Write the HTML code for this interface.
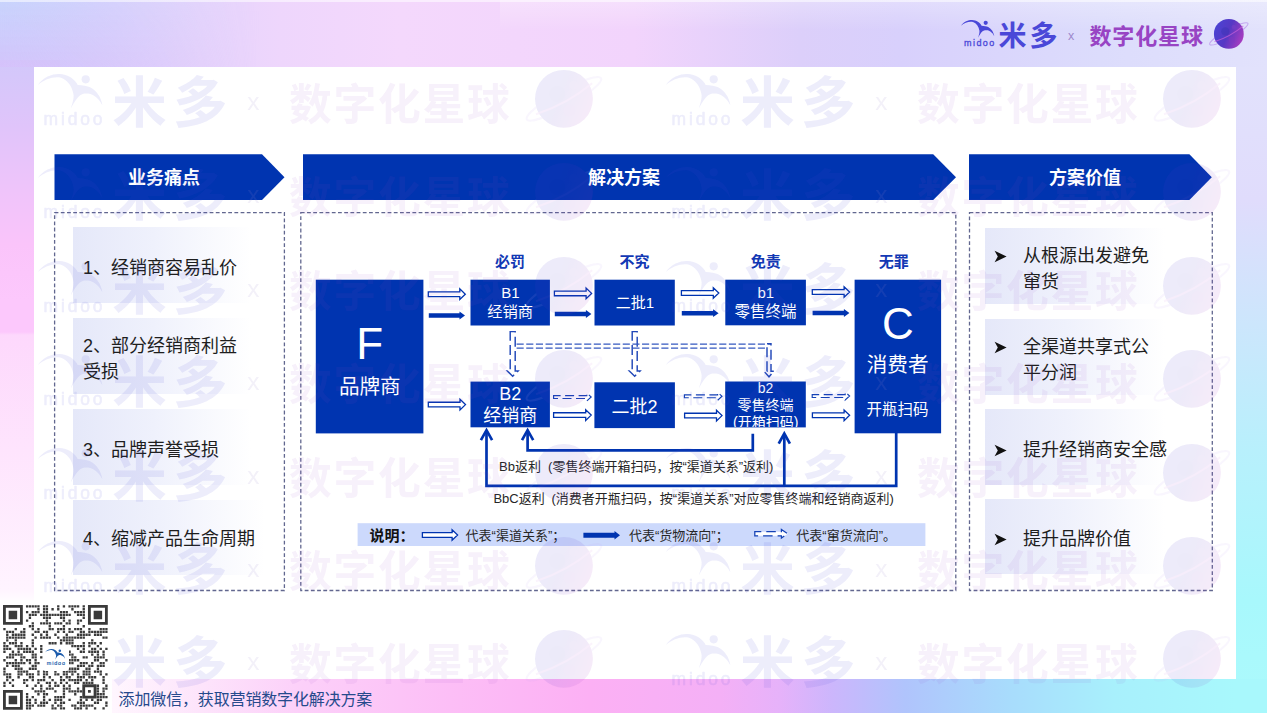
<!DOCTYPE html>
<html lang="zh-CN"><head><meta charset="utf-8"><title>渠道关系解决方案</title>
<style>
html,body{margin:0;padding:0}
body{width:1267px;height:713px;position:relative;overflow:hidden;background:#fff;font-family:"Liberation Sans","Noto Sans CJK SC",sans-serif}
.a{position:absolute}
.t{position:absolute;white-space:nowrap;line-height:1}
.it{position:absolute;height:75.5px;background:linear-gradient(90deg,#e5e8f9 0%,#eff1fc 45%,#ffffff 100%)}
.li{position:absolute;white-space:nowrap;font-size:18px;line-height:26px;color:#1e1e1e}
.wm{position:absolute;width:600px;height:70px;opacity:.105}
</style></head><body>

<div class="a" style="left:0;top:0;width:1267px;height:713px;background:linear-gradient(90deg,#c8d0fc 0px,#d8cffc 100px,#e6d4fc 200px,#eed6fc 280px,#f4d8fc 400px,#f2d4fc 634px,#dccffa 800px,#d8d0fc 900px,#dcdcfc 1100px,#e2e2fc 1267px)"></div>
<div class="a" style="left:0;top:60px;width:60px;height:653px;background:linear-gradient(180deg,#d2c8fa 0px,#e0c4fa 67px,#f0c4fa 135px,#fac4fa 185px,#fcc8fc 240px,#fcc8fc 272px,#fdd8fc 275px,#fee4fd 390px,#fff4ff 530px,#ffffff 545px)"></div>
<div class="a" style="left:0;top:0;width:260px;height:67px;background:linear-gradient(180deg,rgba(200,216,254,.45) 0%,rgba(214,192,250,.75) 100%);-webkit-mask-image:linear-gradient(90deg,#000 0,transparent 100%);mask-image:linear-gradient(90deg,#000 0,transparent 100%)"></div>
<div class="a" style="left:1200px;top:67px;width:67px;height:646px;background:linear-gradient(180deg,#e2e2fc 0px,#e0dcfc 133px,#d0e4fc 233px,#b8f0fc 383px,#a8f8fc 533px,#acfafc 646px)"></div>
<div class="a" style="left:0;top:679px;width:1267px;height:34px;background:linear-gradient(90deg,#ffffff 0px,#fff6fe 112px,#fde4fb 200px,#fcd0f9 300px,#fcbef6 450px,#fcb0f4 590px,#f4b0f6 720px,#e6b2fa 780px,#ccb6fc 832px,#b0c4fc 905px,#a8dcfc 1010px,#a8f0fc 1115px,#a8f8fc 1235px,#a8f8fc 1267px)"></div>
<div class="a" style="left:0;top:0;width:1267px;height:2px;background:rgba(255,255,255,.55)"></div>
<div class="a" style="left:500px;top:0;width:767px;height:30px;background:linear-gradient(180deg,rgba(255,255,255,.28),rgba(255,255,255,0))"></div>
<div class="a" style="left:34px;top:67px;width:1201.5px;height:612px;background:#fff"></div>
<svg class="a" style="left:0;top:0" width="1267" height="713" viewBox="0 0 1267 713"><polygon points="54.5,154.3 262,154.3 284.5,177.2 262,200 54.5,200" fill="#0034b0"/></svg>
<div class="t" style="left:164px;top:178.3px;transform:translate(-50%,-50%);font-size:18px;color:#fff;font-weight:700;">业务痛点</div>
<svg class="a" style="left:0;top:0" width="1267" height="713" viewBox="0 0 1267 713"><polygon points="303,154.3 933.2,154.3 956,177.2 933.2,200 303,200" fill="#0034b0"/></svg>
<div class="t" style="left:624px;top:178.3px;transform:translate(-50%,-50%);font-size:18px;color:#fff;font-weight:700;">解决方案</div>
<svg class="a" style="left:0;top:0" width="1267" height="713" viewBox="0 0 1267 713"><polygon points="969,154.3 1189.4,154.3 1211.8,177.2 1189.4,200 969,200" fill="#0034b0"/></svg>
<div class="t" style="left:1085px;top:178.3px;transform:translate(-50%,-50%);font-size:18px;color:#fff;font-weight:700;">方案价值</div>
<svg class="a" style="left:0;top:0" width="1267" height="713" viewBox="0 0 1267 713" fill="none" stroke="#62678f" stroke-width="1.3" stroke-dasharray="3.8 2.4">
<rect x="54.6" y="212.6" width="229.79999999999998" height="377.9"/>
<rect x="300.8" y="212.6" width="655.0" height="377.9"/>
<rect x="969.5" y="212.6" width="242.79999999999995" height="377.9"/>
</svg>
<div class="it" style="left:73px;top:227.4px;width:178px"></div>
<div class="it" style="left:73px;top:318px;width:178px"></div>
<div class="it" style="left:73px;top:409px;width:178px"></div>
<div class="it" style="left:73px;top:499.6px;width:192px"></div>
<div class="li" style="left:83px;top:254.5px">1、经销商容易乱价</div>
<div class="li" style="left:83px;top:333px">2、部分经销商利益<br>受损</div>
<div class="li" style="left:83px;top:437px">3、品牌声誉受损</div>
<div class="li" style="left:83px;top:526.4px">4、缩减产品生命周期</div>
<div class="it" style="left:985px;top:228.4px;width:180px"></div>
<div class="it" style="left:985px;top:319.4px;width:180px"></div>
<div class="it" style="left:985px;top:409px;width:180px"></div>
<div class="it" style="left:985px;top:498.7px;width:180px"></div>
<svg class="a" style="left:994px;top:249.8px" width="14" height="13" viewBox="0 0 14 13"><polygon points="0.6,0.8 12.6,6.5 0.6,12.2 3.8,6.5" fill="#111"/></svg>
<div class="li" style="left:1023px;top:243.3px">从根源出发避免<br>窜货</div>
<svg class="a" style="left:994px;top:340.9px" width="14" height="13" viewBox="0 0 14 13"><polygon points="0.6,0.8 12.6,6.5 0.6,12.2 3.8,6.5" fill="#111"/></svg>
<div class="li" style="left:1023px;top:334.4px">全渠道共享式公<br>平分润</div>
<svg class="a" style="left:994px;top:443.5px" width="14" height="13" viewBox="0 0 14 13"><polygon points="0.6,0.8 12.6,6.5 0.6,12.2 3.8,6.5" fill="#111"/></svg>
<div class="li" style="left:1023px;top:437px">提升经销商安全感</div>
<svg class="a" style="left:994px;top:532.9px" width="14" height="13" viewBox="0 0 14 13"><polygon points="0.6,0.8 12.6,6.5 0.6,12.2 3.8,6.5" fill="#111"/></svg>
<div class="li" style="left:1023px;top:526.4px">提升品牌价值</div>
<svg class="a" style="left:0;top:0" width="1267" height="713" viewBox="0 0 1267 713">
<rect x="315.8" y="279.7" width="107.6" height="153.7" fill="#0034b0"/>
<rect x="470.5" y="279.7" width="79.4" height="45.8" fill="#0034b0"/>
<rect x="594.5" y="279.7" width="80.3" height="45.8" fill="#0034b0"/>
<rect x="725.3" y="279.7" width="80.6" height="45.6" fill="#0034b0"/>
<rect x="854.6" y="279.7" width="86.5" height="153.6" fill="#0034b0"/>
<rect x="470.5" y="381.6" width="79.4" height="45.7" fill="#0034b0"/>
<rect x="594.4" y="382.3" width="80.5" height="45.8" fill="#0034b0"/>
<rect x="725.2" y="381.5" width="80.6" height="45.9" fill="#0034b0"/>
<polygon points="428.3,291.84999999999997 459.8,291.84999999999997 459.8,288.9 465.3,294.2 459.8,299.5 459.8,296.55 428.3,296.55" fill="#fff" stroke="#0034b0" stroke-width="1.3" stroke-linejoin="miter"/>
<polygon points="428.8,313.3 459.5,313.3 459.5,311.6 465,315.5 459.5,319.4 459.5,317.7 428.8,317.7" fill="#0034b0"/>
<polygon points="554.4,291.04999999999995 586.1,291.04999999999995 586.1,288.09999999999997 591.6,293.4 586.1,298.7 586.1,295.75 554.4,295.75" fill="#fff" stroke="#0034b0" stroke-width="1.3" stroke-linejoin="miter"/>
<polygon points="554.8,311.8 585.9,311.8 585.9,310.1 591.4,314 585.9,317.9 585.9,316.2 554.8,316.2" fill="#0034b0"/>
<polygon points="681.4,290.65 713.3,290.65 713.3,287.7 718.8,293 713.3,298.3 713.3,295.35 681.4,295.35" fill="#fff" stroke="#0034b0" stroke-width="1.3" stroke-linejoin="miter"/>
<polygon points="681.8,311.0 713.1,311.0 713.1,309.3 718.6,313.2 713.1,317.09999999999997 713.1,315.4 681.8,315.4" fill="#0034b0"/>
<polygon points="812.3,289.65 844.1,289.65 844.1,286.7 849.6,292 844.1,297.3 844.1,294.35 812.3,294.35" fill="#fff" stroke="#0034b0" stroke-width="1.3" stroke-linejoin="miter"/>
<polygon points="812.6,310.8 843.9,310.8 843.9,309.1 849.4,313 843.9,316.9 843.9,315.2 812.6,315.2" fill="#0034b0"/>
<polygon points="428.3,402.25 460.0,402.25 460.0,399.3 465.5,404.6 460.0,409.90000000000003 460.0,406.95000000000005 428.3,406.95000000000005" fill="#fff" stroke="#0034b0" stroke-width="1.3" stroke-linejoin="miter"/>
<polygon points="553.6,395.55 586.8000000000001,395.55 586.8000000000001,393.0 591.2,397 586.8000000000001,401.0 586.8000000000001,398.45 553.6,398.45" fill="#fff" stroke="#1442b6" stroke-width="1.15" stroke-dasharray="9 4.5" stroke-dashoffset="2"/>
<polygon points="553.6,412.75 585.7,412.75 585.7,409.8 591.2,415.1 585.7,420.40000000000003 585.7,417.45000000000005 553.6,417.45000000000005" fill="#fff" stroke="#0034b0" stroke-width="1.3" stroke-linejoin="miter"/>
<polygon points="684.4,394.85 717.6,394.85 717.6,392.3 722,396.3 717.6,400.3 717.6,397.75 684.4,397.75" fill="#fff" stroke="#1442b6" stroke-width="1.15" stroke-dasharray="9 4.5" stroke-dashoffset="2"/>
<polygon points="684.6,413.25 716.5,413.25 716.5,410.3 722,415.6 716.5,420.90000000000003 716.5,417.95000000000005 684.6,417.95000000000005" fill="#fff" stroke="#0034b0" stroke-width="1.3" stroke-linejoin="miter"/>
<polygon points="812.2,394.55 845.2,394.55 845.2,392.0 849.6,396 845.2,400.0 845.2,397.45 812.2,397.45" fill="#fff" stroke="#1442b6" stroke-width="1.15" stroke-dasharray="9 4.5" stroke-dashoffset="2"/>
<polygon points="812.4,412.95 844.1,412.95 844.1,410.0 849.6,415.3 844.1,420.6 844.1,417.65000000000003 812.4,417.65000000000003" fill="#fff" stroke="#0034b0" stroke-width="1.3" stroke-linejoin="miter"/>
<polygon points="510.20000000000005,331.6 515.2,331.6 515.2,370.90000000000003 518.1,370.90000000000003 512.7,376.3 507.30000000000007,370.90000000000003 510.20000000000005,370.90000000000003" fill="none" stroke="#2148b8" stroke-width="1.45" stroke-dasharray="10 4.2" stroke-dashoffset="4"/>
<polygon points="632.2,331.6 637.2,331.6 637.2,370.90000000000003 640.1,370.90000000000003 634.7,376.3 629.3000000000001,370.90000000000003 632.2,370.90000000000003" fill="none" stroke="#2148b8" stroke-width="1.45" stroke-dasharray="10 4.2" stroke-dashoffset="4"/>
<path d="M516.6,344 H771 M516.6,348 H767" fill="none" stroke="#3458c0" stroke-width="1.25" stroke-dasharray="7.1 2.55"/>
<polygon points="767.0,343.6 771.0,343.6 771.0,371.2 774.1,371.2 769,376.8 763.9,371.2 767.0,371.2" fill="none" stroke="#2148b8" stroke-width="1.45" stroke-dasharray="10 4.2" stroke-dashoffset="4"/>
<g fill="none" stroke="#0034b0" stroke-width="2.7" stroke-linejoin="miter" stroke-linecap="butt">
<path d="M752.8,433.8 V450.4 H527.6 V431"/>
<path d="M896.2,433 V485.8 H486.5 V431"/>
<path d="M784.3,485.8 V434.4"/>
<path d="M522.0,440.20000000000005 L527.6,430.20000000000005 L533.2,440.20000000000005" stroke-linejoin="miter" stroke-miterlimit="10"/>
<path d="M480.9,440.20000000000005 L486.5,430.20000000000005 L492.1,440.20000000000005" stroke-linejoin="miter" stroke-miterlimit="10"/>
<path d="M778.6999999999999,443.6 L784.3,433.6 L789.9,443.6" stroke-linejoin="miter" stroke-miterlimit="10"/>
</g>
<rect x="357.6" y="523.2" width="567.8" height="22.8" fill="#ccd9fc"/>
<polygon points="422.4,532.65 452.1,532.65 452.1,529.7 457.6,535 452.1,540.3 452.1,537.35 422.4,537.35" fill="#fff" stroke="#0034b0" stroke-width="1.3" stroke-linejoin="miter"/>
<polygon points="583.4,532.7 614.5,532.7 614.5,531.0 620,535.2 614.5,539.4000000000001 614.5,537.7 583.4,537.7" fill="#0034b0"/>
<polygon points="754.8,531.7 781.4,531.7 781.4,529.5 787.7,533.75 781.4,538 781.4,535.8 754.8,535.8" fill="#fff" stroke="#1442b6" stroke-width="1.25" stroke-dasharray="9.5 5" stroke-dashoffset="3"/>
</svg>
<div class="t" style="left:510px;top:261.2px;transform:translate(-50%,-50%);font-size:15px;color:#1238b4;font-weight:700;">必罚</div>
<div class="t" style="left:634.5px;top:261.2px;transform:translate(-50%,-50%);font-size:15px;color:#1238b4;font-weight:700;">不究</div>
<div class="t" style="left:765.7px;top:261.2px;transform:translate(-50%,-50%);font-size:15px;color:#1238b4;font-weight:700;">免责</div>
<div class="t" style="left:893.8px;top:261.2px;transform:translate(-50%,-50%);font-size:15px;color:#1238b4;font-weight:700;">无罪</div>
<div class="t" style="left:369.7px;top:344px;transform:translate(-50%,-50%);font-size:44px;color:#fff;font-weight:400;font-family:"Liberation Sans",sans-serif;">F</div>
<div class="t" style="left:369.8px;top:387px;transform:translate(-50%,-50%);font-size:20.6px;color:#fff;font-weight:400;">品牌商</div>
<div class="t" style="left:510.5px;top:291.8px;transform:translate(-50%,-50%);font-size:15px;color:#fff;font-weight:400;">B1</div>
<div class="t" style="left:510.2px;top:312px;transform:translate(-50%,-50%);font-size:15.3px;color:#fff;font-weight:400;">经销商</div>
<div class="t" style="left:634.8px;top:301.9px;transform:translate(-50%,-50%);font-size:15px;color:#fff;font-weight:400;">二批1</div>
<div class="t" style="left:765.8px;top:291.7px;transform:translate(-50%,-50%);font-size:15px;color:#fff;font-weight:400;">b1</div>
<div class="t" style="left:765.5px;top:311.9px;transform:translate(-50%,-50%);font-size:15.5px;color:#fff;font-weight:400;">零售终端</div>
<div class="t" style="left:897.8px;top:323.6px;transform:translate(-50%,-50%);font-size:44px;color:#fff;font-weight:400;font-family:"Liberation Sans",sans-serif;">C</div>
<div class="t" style="left:897.6px;top:365px;transform:translate(-50%,-50%);font-size:20.6px;color:#fff;font-weight:400;">消费者</div>
<div class="t" style="left:897.6px;top:410.1px;transform:translate(-50%,-50%);font-size:15.5px;color:#fff;font-weight:400;">开瓶扫码</div>
<div class="t" style="left:510.2px;top:394px;transform:translate(-50%,-50%);font-size:18px;color:#fff;font-weight:400;">B2</div>
<div class="t" style="left:510.2px;top:415.6px;transform:translate(-50%,-50%);font-size:18px;color:#fff;font-weight:400;">经销商</div>
<div class="t" style="left:634.6px;top:407px;transform:translate(-50%,-50%);font-size:18px;color:#fff;font-weight:400;">二批2</div>
<div class="a" style="left:725.2px;top:381.5px;width:80.6px;height:45.9px;overflow:hidden">
<div class="t" style="left:40.3px;top:6.100000000000023px;transform:translate(-50%,-50%);font-size:14px;color:#fff">b2</div>
<div class="t" style="left:40.3px;top:23.0px;transform:translate(-50%,-50%);font-size:14px;color:#fff">零售终端</div>
<div class="t" style="left:40.6px;top:40.10000000000002px;transform:translate(-50%,-50%);font-size:14px;color:#fff">(开箱扫码)</div>
</div>
<div class="t" style="left:499px;top:465.8px;transform:translate(0,-50%);font-size:13px;color:#262626;font-weight:400;word-spacing:3.6px;">Bb返利 (零售终端开箱扫码，按“渠道关系”返利)</div>
<div class="t" style="left:493.4px;top:498.3px;transform:translate(0,-50%);font-size:13px;color:#262626;font-weight:400;word-spacing:3.2px;">BbC返利 (消费者开瓶扫码，按“渠道关系”对应零售终端和经销商返利)</div>
<div class="t" style="left:369.4px;top:535px;transform:translate(0,-50%);font-size:15px;color:#111;font-weight:700;">说明：</div>
<div class="t" style="left:465.6px;top:535px;transform:translate(0,-50%);font-size:13px;color:#262626;font-weight:400;">代表“渠道关系”；</div>
<div class="t" style="left:629px;top:535px;transform:translate(0,-50%);font-size:13px;color:#262626;font-weight:400;">代表“货物流向”；</div>
<div class="t" style="left:796.3px;top:535px;transform:translate(0,-50%);font-size:13px;color:#262626;font-weight:400;">代表“窜货流向”。</div>
<div class="a" style="left:955px;top:0px;width:300px;height:67px;transform-origin:0 0;">
<svg class="a" style="left:5.6px;top:20.4px;opacity:1" width="35" height="28" viewBox="0 0 35 28"><path d="M0,5.7 C3,1.6 7.5,0 11.1,0.1 C15.5,0.3 19,2.6 20.6,5.7 C23,5.8 25.5,6.2 27.2,7.1 C30.6,9 32.7,12.4 33.3,16.3 C32.2,14.2 31.4,13.2 30.5,12.5 C29,11.2 27.8,10.5 26.6,10.3 C25.4,10.1 24.2,10.1 23.1,10.4 C22,10.8 21,11.6 20.3,12.6 C19.2,14.1 18,15.9 17,17.8 C18.2,14.2 18.7,12.4 18.4,10.5 C17.8,6.5 15.4,3.2 12,2 C8,1.2 3.6,2.8 0,5.7 Z" fill="#4a48d8"/><circle cx="24.7" cy="2.85" r="2.1" fill="#4a48d8"/><text x="18.9" y="26.3" text-anchor="middle" font-family="'Liberation Sans',sans-serif" font-size="9" font-weight="400" letter-spacing="1.45" fill="#4a48d8" stroke="#4a48d8" stroke-width="0.3">midoo</text></svg>
<div class="t" style="left:43.4px;top:36.6px;transform:translate(0,-50%);font-size:28px;font-weight:700;color:#4a48d8;letter-spacing:3.2px;">米多</div>
<div class="t" style="left:116px;top:35.6px;transform:translate(-50%,-50%);font-size:12.5px;color:#9c88cc;">x</div>
<div class="t" style="left:134.4px;top:36.8px;transform:translate(0,-50%);font-size:22px;font-weight:700;color:#9844c4;letter-spacing:0.9px;">数字化星球</div>
<div class="a" style="left:0;top:0;"><svg class="a" style="left:250.16px;top:15.719999999999999px" width="47.68000000000001" height="35.760000000000005" viewBox="-24 -18 48 36"><defs><linearGradient id="pg1" x1="0" y1="0.2" x2="1" y2="0.6"><stop offset="0" stop-color="#4a44d4"/><stop offset="0.5" stop-color="#5638c4"/><stop offset="1" stop-color="#a83cc0"/></linearGradient></defs><ellipse cx="0" cy="0" rx="22" ry="4.2" transform="rotate(-29)" fill="none" stroke="#c4a8f0" stroke-width="1.1"/><circle cx="0" cy="0" r="15" fill="url(#pg1)"/><circle cx="-3.5" cy="-2.5" r="4.2" fill="#3a34b4" opacity=".45"/><circle cx="3" cy="6" r="3.2" fill="#8038c0" opacity=".45"/><circle cx="5" cy="-7" r="2.2" fill="#7a40c8" opacity=".5"/><path d="M-14.5,8 Q2,2.5 14.6,-8.1" fill="none" stroke="#c860d8" stroke-width="1.1" opacity=".7"/></svg></div>
</div>
<div class="a" style="left:27.5px;top:32.9px;width:300px;height:67px;transform-origin:0 0;transform:scale(1.943);">
<svg class="a" style="left:5.3px;top:21.4px;opacity:0.098" width="35" height="28" viewBox="0 0 35 28"><path d="M0,5.7 C3,1.6 7.5,0 11.1,0.1 C15.5,0.3 19,2.6 20.6,5.7 C23,5.8 25.5,6.2 27.2,7.1 C30.6,9 32.7,12.4 33.3,16.3 C32.2,14.2 31.4,13.2 30.5,12.5 C29,11.2 27.8,10.5 26.6,10.3 C25.4,10.1 24.2,10.1 23.1,10.4 C22,10.8 21,11.6 20.3,12.6 C19.2,14.1 18,15.9 17,17.8 C18.2,14.2 18.7,12.4 18.4,10.5 C17.8,6.5 15.4,3.2 12,2 C8,1.2 3.6,2.8 0,5.7 Z" fill="#4a48d8"/><circle cx="24.7" cy="2.85" r="2.1" fill="#4a48d8"/><text x="18.9" y="26.3" text-anchor="middle" font-family="'Liberation Sans',sans-serif" font-size="9" font-weight="400" letter-spacing="1.45" fill="#4a48d8" stroke="#4a48d8" stroke-width="0.3">midoo</text></svg>
<div class="t" style="left:43.4px;top:36.6px;transform:translate(0,-50%);font-size:28px;font-weight:700;color:#4a48d8;letter-spacing:3.2px;opacity:0.098;">米多</div>
<div class="t" style="left:116px;top:35.6px;transform:translate(-50%,-50%);font-size:12.5px;color:#9c88cc;opacity:0.12;">x</div>
<div class="t" style="left:134.4px;top:37.9px;transform:translate(0,-50%);font-size:22px;font-weight:700;color:#9844c4;letter-spacing:0.9px;opacity:0.075;">数字化星球</div>
<div class="a" style="left:0;top:0;opacity:0.1;"><svg class="a" style="left:252.46px;top:15.719999999999999px" width="47.68000000000001" height="35.760000000000005" viewBox="-24 -18 48 36"><defs><linearGradient id="pg2" x1="0" y1="0.2" x2="1" y2="0.6"><stop offset="0" stop-color="#4a44d4"/><stop offset="0.5" stop-color="#5638c4"/><stop offset="1" stop-color="#a83cc0"/></linearGradient></defs><ellipse cx="0" cy="0" rx="22" ry="4.2" transform="rotate(-29)" fill="none" stroke="#c4a8f0" stroke-width="1.1"/><circle cx="0" cy="0" r="15" fill="url(#pg2)"/><circle cx="-3.5" cy="-2.5" r="4.2" fill="#3a34b4" opacity=".45"/><circle cx="3" cy="6" r="3.2" fill="#8038c0" opacity=".45"/><circle cx="5" cy="-7" r="2.2" fill="#7a40c8" opacity=".5"/><path d="M-14.5,8 Q2,2.5 14.6,-8.1" fill="none" stroke="#c860d8" stroke-width="1.1" opacity=".7"/></svg></div>
</div>
<div class="a" style="left:656.2px;top:32.9px;width:300px;height:67px;transform-origin:0 0;transform:scale(1.943);">
<svg class="a" style="left:5.3px;top:21.4px;opacity:0.098" width="35" height="28" viewBox="0 0 35 28"><path d="M0,5.7 C3,1.6 7.5,0 11.1,0.1 C15.5,0.3 19,2.6 20.6,5.7 C23,5.8 25.5,6.2 27.2,7.1 C30.6,9 32.7,12.4 33.3,16.3 C32.2,14.2 31.4,13.2 30.5,12.5 C29,11.2 27.8,10.5 26.6,10.3 C25.4,10.1 24.2,10.1 23.1,10.4 C22,10.8 21,11.6 20.3,12.6 C19.2,14.1 18,15.9 17,17.8 C18.2,14.2 18.7,12.4 18.4,10.5 C17.8,6.5 15.4,3.2 12,2 C8,1.2 3.6,2.8 0,5.7 Z" fill="#4a48d8"/><circle cx="24.7" cy="2.85" r="2.1" fill="#4a48d8"/><text x="18.9" y="26.3" text-anchor="middle" font-family="'Liberation Sans',sans-serif" font-size="9" font-weight="400" letter-spacing="1.45" fill="#4a48d8" stroke="#4a48d8" stroke-width="0.3">midoo</text></svg>
<div class="t" style="left:43.4px;top:36.6px;transform:translate(0,-50%);font-size:28px;font-weight:700;color:#4a48d8;letter-spacing:3.2px;opacity:0.098;">米多</div>
<div class="t" style="left:116px;top:35.6px;transform:translate(-50%,-50%);font-size:12.5px;color:#9c88cc;opacity:0.12;">x</div>
<div class="t" style="left:134.4px;top:37.9px;transform:translate(0,-50%);font-size:22px;font-weight:700;color:#9844c4;letter-spacing:0.9px;opacity:0.075;">数字化星球</div>
<div class="a" style="left:0;top:0;opacity:0.1;"><svg class="a" style="left:252.46px;top:15.719999999999999px" width="47.68000000000001" height="35.760000000000005" viewBox="-24 -18 48 36"><defs><linearGradient id="pg3" x1="0" y1="0.2" x2="1" y2="0.6"><stop offset="0" stop-color="#4a44d4"/><stop offset="0.5" stop-color="#5638c4"/><stop offset="1" stop-color="#a83cc0"/></linearGradient></defs><ellipse cx="0" cy="0" rx="22" ry="4.2" transform="rotate(-29)" fill="none" stroke="#c4a8f0" stroke-width="1.1"/><circle cx="0" cy="0" r="15" fill="url(#pg3)"/><circle cx="-3.5" cy="-2.5" r="4.2" fill="#3a34b4" opacity=".45"/><circle cx="3" cy="6" r="3.2" fill="#8038c0" opacity=".45"/><circle cx="5" cy="-7" r="2.2" fill="#7a40c8" opacity=".5"/><path d="M-14.5,8 Q2,2.5 14.6,-8.1" fill="none" stroke="#c860d8" stroke-width="1.1" opacity=".7"/></svg></div>
</div>
<div class="a" style="left:27.5px;top:126.3px;width:300px;height:67px;transform-origin:0 0;transform:scale(1.943);">
<svg class="a" style="left:5.3px;top:21.4px;opacity:0.098" width="35" height="28" viewBox="0 0 35 28"><path d="M0,5.7 C3,1.6 7.5,0 11.1,0.1 C15.5,0.3 19,2.6 20.6,5.7 C23,5.8 25.5,6.2 27.2,7.1 C30.6,9 32.7,12.4 33.3,16.3 C32.2,14.2 31.4,13.2 30.5,12.5 C29,11.2 27.8,10.5 26.6,10.3 C25.4,10.1 24.2,10.1 23.1,10.4 C22,10.8 21,11.6 20.3,12.6 C19.2,14.1 18,15.9 17,17.8 C18.2,14.2 18.7,12.4 18.4,10.5 C17.8,6.5 15.4,3.2 12,2 C8,1.2 3.6,2.8 0,5.7 Z" fill="#4a48d8"/><circle cx="24.7" cy="2.85" r="2.1" fill="#4a48d8"/><text x="18.9" y="26.3" text-anchor="middle" font-family="'Liberation Sans',sans-serif" font-size="9" font-weight="400" letter-spacing="1.45" fill="#4a48d8" stroke="#4a48d8" stroke-width="0.3">midoo</text></svg>
<div class="t" style="left:43.4px;top:36.6px;transform:translate(0,-50%);font-size:28px;font-weight:700;color:#4a48d8;letter-spacing:3.2px;opacity:0.098;">米多</div>
<div class="t" style="left:116px;top:35.6px;transform:translate(-50%,-50%);font-size:12.5px;color:#9c88cc;opacity:0.12;">x</div>
<div class="t" style="left:134.4px;top:37.9px;transform:translate(0,-50%);font-size:22px;font-weight:700;color:#9844c4;letter-spacing:0.9px;opacity:0.075;">数字化星球</div>
<div class="a" style="left:0;top:0;opacity:0.1;"><svg class="a" style="left:252.46px;top:15.719999999999999px" width="47.68000000000001" height="35.760000000000005" viewBox="-24 -18 48 36"><defs><linearGradient id="pg4" x1="0" y1="0.2" x2="1" y2="0.6"><stop offset="0" stop-color="#4a44d4"/><stop offset="0.5" stop-color="#5638c4"/><stop offset="1" stop-color="#a83cc0"/></linearGradient></defs><ellipse cx="0" cy="0" rx="22" ry="4.2" transform="rotate(-29)" fill="none" stroke="#c4a8f0" stroke-width="1.1"/><circle cx="0" cy="0" r="15" fill="url(#pg4)"/><circle cx="-3.5" cy="-2.5" r="4.2" fill="#3a34b4" opacity=".45"/><circle cx="3" cy="6" r="3.2" fill="#8038c0" opacity=".45"/><circle cx="5" cy="-7" r="2.2" fill="#7a40c8" opacity=".5"/><path d="M-14.5,8 Q2,2.5 14.6,-8.1" fill="none" stroke="#c860d8" stroke-width="1.1" opacity=".7"/></svg></div>
</div>
<div class="a" style="left:656.2px;top:126.3px;width:300px;height:67px;transform-origin:0 0;transform:scale(1.943);">
<svg class="a" style="left:5.3px;top:21.4px;opacity:0.098" width="35" height="28" viewBox="0 0 35 28"><path d="M0,5.7 C3,1.6 7.5,0 11.1,0.1 C15.5,0.3 19,2.6 20.6,5.7 C23,5.8 25.5,6.2 27.2,7.1 C30.6,9 32.7,12.4 33.3,16.3 C32.2,14.2 31.4,13.2 30.5,12.5 C29,11.2 27.8,10.5 26.6,10.3 C25.4,10.1 24.2,10.1 23.1,10.4 C22,10.8 21,11.6 20.3,12.6 C19.2,14.1 18,15.9 17,17.8 C18.2,14.2 18.7,12.4 18.4,10.5 C17.8,6.5 15.4,3.2 12,2 C8,1.2 3.6,2.8 0,5.7 Z" fill="#4a48d8"/><circle cx="24.7" cy="2.85" r="2.1" fill="#4a48d8"/><text x="18.9" y="26.3" text-anchor="middle" font-family="'Liberation Sans',sans-serif" font-size="9" font-weight="400" letter-spacing="1.45" fill="#4a48d8" stroke="#4a48d8" stroke-width="0.3">midoo</text></svg>
<div class="t" style="left:43.4px;top:36.6px;transform:translate(0,-50%);font-size:28px;font-weight:700;color:#4a48d8;letter-spacing:3.2px;opacity:0.098;">米多</div>
<div class="t" style="left:116px;top:35.6px;transform:translate(-50%,-50%);font-size:12.5px;color:#9c88cc;opacity:0.12;">x</div>
<div class="t" style="left:134.4px;top:37.9px;transform:translate(0,-50%);font-size:22px;font-weight:700;color:#9844c4;letter-spacing:0.9px;opacity:0.075;">数字化星球</div>
<div class="a" style="left:0;top:0;opacity:0.1;"><svg class="a" style="left:252.46px;top:15.719999999999999px" width="47.68000000000001" height="35.760000000000005" viewBox="-24 -18 48 36"><defs><linearGradient id="pg5" x1="0" y1="0.2" x2="1" y2="0.6"><stop offset="0" stop-color="#4a44d4"/><stop offset="0.5" stop-color="#5638c4"/><stop offset="1" stop-color="#a83cc0"/></linearGradient></defs><ellipse cx="0" cy="0" rx="22" ry="4.2" transform="rotate(-29)" fill="none" stroke="#c4a8f0" stroke-width="1.1"/><circle cx="0" cy="0" r="15" fill="url(#pg5)"/><circle cx="-3.5" cy="-2.5" r="4.2" fill="#3a34b4" opacity=".45"/><circle cx="3" cy="6" r="3.2" fill="#8038c0" opacity=".45"/><circle cx="5" cy="-7" r="2.2" fill="#7a40c8" opacity=".5"/><path d="M-14.5,8 Q2,2.5 14.6,-8.1" fill="none" stroke="#c860d8" stroke-width="1.1" opacity=".7"/></svg></div>
</div>
<div class="a" style="left:27.5px;top:219.7px;width:300px;height:67px;transform-origin:0 0;transform:scale(1.943);">
<svg class="a" style="left:5.3px;top:21.4px;opacity:0.098" width="35" height="28" viewBox="0 0 35 28"><path d="M0,5.7 C3,1.6 7.5,0 11.1,0.1 C15.5,0.3 19,2.6 20.6,5.7 C23,5.8 25.5,6.2 27.2,7.1 C30.6,9 32.7,12.4 33.3,16.3 C32.2,14.2 31.4,13.2 30.5,12.5 C29,11.2 27.8,10.5 26.6,10.3 C25.4,10.1 24.2,10.1 23.1,10.4 C22,10.8 21,11.6 20.3,12.6 C19.2,14.1 18,15.9 17,17.8 C18.2,14.2 18.7,12.4 18.4,10.5 C17.8,6.5 15.4,3.2 12,2 C8,1.2 3.6,2.8 0,5.7 Z" fill="#4a48d8"/><circle cx="24.7" cy="2.85" r="2.1" fill="#4a48d8"/><text x="18.9" y="26.3" text-anchor="middle" font-family="'Liberation Sans',sans-serif" font-size="9" font-weight="400" letter-spacing="1.45" fill="#4a48d8" stroke="#4a48d8" stroke-width="0.3">midoo</text></svg>
<div class="t" style="left:43.4px;top:36.6px;transform:translate(0,-50%);font-size:28px;font-weight:700;color:#4a48d8;letter-spacing:3.2px;opacity:0.098;">米多</div>
<div class="t" style="left:116px;top:35.6px;transform:translate(-50%,-50%);font-size:12.5px;color:#9c88cc;opacity:0.12;">x</div>
<div class="t" style="left:134.4px;top:37.9px;transform:translate(0,-50%);font-size:22px;font-weight:700;color:#9844c4;letter-spacing:0.9px;opacity:0.075;">数字化星球</div>
<div class="a" style="left:0;top:0;opacity:0.1;"><svg class="a" style="left:252.46px;top:15.719999999999999px" width="47.68000000000001" height="35.760000000000005" viewBox="-24 -18 48 36"><defs><linearGradient id="pg6" x1="0" y1="0.2" x2="1" y2="0.6"><stop offset="0" stop-color="#4a44d4"/><stop offset="0.5" stop-color="#5638c4"/><stop offset="1" stop-color="#a83cc0"/></linearGradient></defs><ellipse cx="0" cy="0" rx="22" ry="4.2" transform="rotate(-29)" fill="none" stroke="#c4a8f0" stroke-width="1.1"/><circle cx="0" cy="0" r="15" fill="url(#pg6)"/><circle cx="-3.5" cy="-2.5" r="4.2" fill="#3a34b4" opacity=".45"/><circle cx="3" cy="6" r="3.2" fill="#8038c0" opacity=".45"/><circle cx="5" cy="-7" r="2.2" fill="#7a40c8" opacity=".5"/><path d="M-14.5,8 Q2,2.5 14.6,-8.1" fill="none" stroke="#c860d8" stroke-width="1.1" opacity=".7"/></svg></div>
</div>
<div class="a" style="left:656.2px;top:219.7px;width:300px;height:67px;transform-origin:0 0;transform:scale(1.943);">
<svg class="a" style="left:5.3px;top:21.4px;opacity:0.098" width="35" height="28" viewBox="0 0 35 28"><path d="M0,5.7 C3,1.6 7.5,0 11.1,0.1 C15.5,0.3 19,2.6 20.6,5.7 C23,5.8 25.5,6.2 27.2,7.1 C30.6,9 32.7,12.4 33.3,16.3 C32.2,14.2 31.4,13.2 30.5,12.5 C29,11.2 27.8,10.5 26.6,10.3 C25.4,10.1 24.2,10.1 23.1,10.4 C22,10.8 21,11.6 20.3,12.6 C19.2,14.1 18,15.9 17,17.8 C18.2,14.2 18.7,12.4 18.4,10.5 C17.8,6.5 15.4,3.2 12,2 C8,1.2 3.6,2.8 0,5.7 Z" fill="#4a48d8"/><circle cx="24.7" cy="2.85" r="2.1" fill="#4a48d8"/><text x="18.9" y="26.3" text-anchor="middle" font-family="'Liberation Sans',sans-serif" font-size="9" font-weight="400" letter-spacing="1.45" fill="#4a48d8" stroke="#4a48d8" stroke-width="0.3">midoo</text></svg>
<div class="t" style="left:43.4px;top:36.6px;transform:translate(0,-50%);font-size:28px;font-weight:700;color:#4a48d8;letter-spacing:3.2px;opacity:0.098;">米多</div>
<div class="t" style="left:116px;top:35.6px;transform:translate(-50%,-50%);font-size:12.5px;color:#9c88cc;opacity:0.12;">x</div>
<div class="t" style="left:134.4px;top:37.9px;transform:translate(0,-50%);font-size:22px;font-weight:700;color:#9844c4;letter-spacing:0.9px;opacity:0.075;">数字化星球</div>
<div class="a" style="left:0;top:0;opacity:0.1;"><svg class="a" style="left:252.46px;top:15.719999999999999px" width="47.68000000000001" height="35.760000000000005" viewBox="-24 -18 48 36"><defs><linearGradient id="pg7" x1="0" y1="0.2" x2="1" y2="0.6"><stop offset="0" stop-color="#4a44d4"/><stop offset="0.5" stop-color="#5638c4"/><stop offset="1" stop-color="#a83cc0"/></linearGradient></defs><ellipse cx="0" cy="0" rx="22" ry="4.2" transform="rotate(-29)" fill="none" stroke="#c4a8f0" stroke-width="1.1"/><circle cx="0" cy="0" r="15" fill="url(#pg7)"/><circle cx="-3.5" cy="-2.5" r="4.2" fill="#3a34b4" opacity=".45"/><circle cx="3" cy="6" r="3.2" fill="#8038c0" opacity=".45"/><circle cx="5" cy="-7" r="2.2" fill="#7a40c8" opacity=".5"/><path d="M-14.5,8 Q2,2.5 14.6,-8.1" fill="none" stroke="#c860d8" stroke-width="1.1" opacity=".7"/></svg></div>
</div>
<div class="a" style="left:27.5px;top:313.1px;width:300px;height:67px;transform-origin:0 0;transform:scale(1.943);">
<svg class="a" style="left:5.3px;top:21.4px;opacity:0.098" width="35" height="28" viewBox="0 0 35 28"><path d="M0,5.7 C3,1.6 7.5,0 11.1,0.1 C15.5,0.3 19,2.6 20.6,5.7 C23,5.8 25.5,6.2 27.2,7.1 C30.6,9 32.7,12.4 33.3,16.3 C32.2,14.2 31.4,13.2 30.5,12.5 C29,11.2 27.8,10.5 26.6,10.3 C25.4,10.1 24.2,10.1 23.1,10.4 C22,10.8 21,11.6 20.3,12.6 C19.2,14.1 18,15.9 17,17.8 C18.2,14.2 18.7,12.4 18.4,10.5 C17.8,6.5 15.4,3.2 12,2 C8,1.2 3.6,2.8 0,5.7 Z" fill="#4a48d8"/><circle cx="24.7" cy="2.85" r="2.1" fill="#4a48d8"/><text x="18.9" y="26.3" text-anchor="middle" font-family="'Liberation Sans',sans-serif" font-size="9" font-weight="400" letter-spacing="1.45" fill="#4a48d8" stroke="#4a48d8" stroke-width="0.3">midoo</text></svg>
<div class="t" style="left:43.4px;top:36.6px;transform:translate(0,-50%);font-size:28px;font-weight:700;color:#4a48d8;letter-spacing:3.2px;opacity:0.098;">米多</div>
<div class="t" style="left:116px;top:35.6px;transform:translate(-50%,-50%);font-size:12.5px;color:#9c88cc;opacity:0.12;">x</div>
<div class="t" style="left:134.4px;top:37.9px;transform:translate(0,-50%);font-size:22px;font-weight:700;color:#9844c4;letter-spacing:0.9px;opacity:0.075;">数字化星球</div>
<div class="a" style="left:0;top:0;opacity:0.1;"><svg class="a" style="left:252.46px;top:15.719999999999999px" width="47.68000000000001" height="35.760000000000005" viewBox="-24 -18 48 36"><defs><linearGradient id="pg8" x1="0" y1="0.2" x2="1" y2="0.6"><stop offset="0" stop-color="#4a44d4"/><stop offset="0.5" stop-color="#5638c4"/><stop offset="1" stop-color="#a83cc0"/></linearGradient></defs><ellipse cx="0" cy="0" rx="22" ry="4.2" transform="rotate(-29)" fill="none" stroke="#c4a8f0" stroke-width="1.1"/><circle cx="0" cy="0" r="15" fill="url(#pg8)"/><circle cx="-3.5" cy="-2.5" r="4.2" fill="#3a34b4" opacity=".45"/><circle cx="3" cy="6" r="3.2" fill="#8038c0" opacity=".45"/><circle cx="5" cy="-7" r="2.2" fill="#7a40c8" opacity=".5"/><path d="M-14.5,8 Q2,2.5 14.6,-8.1" fill="none" stroke="#c860d8" stroke-width="1.1" opacity=".7"/></svg></div>
</div>
<div class="a" style="left:656.2px;top:313.1px;width:300px;height:67px;transform-origin:0 0;transform:scale(1.943);">
<svg class="a" style="left:5.3px;top:21.4px;opacity:0.098" width="35" height="28" viewBox="0 0 35 28"><path d="M0,5.7 C3,1.6 7.5,0 11.1,0.1 C15.5,0.3 19,2.6 20.6,5.7 C23,5.8 25.5,6.2 27.2,7.1 C30.6,9 32.7,12.4 33.3,16.3 C32.2,14.2 31.4,13.2 30.5,12.5 C29,11.2 27.8,10.5 26.6,10.3 C25.4,10.1 24.2,10.1 23.1,10.4 C22,10.8 21,11.6 20.3,12.6 C19.2,14.1 18,15.9 17,17.8 C18.2,14.2 18.7,12.4 18.4,10.5 C17.8,6.5 15.4,3.2 12,2 C8,1.2 3.6,2.8 0,5.7 Z" fill="#4a48d8"/><circle cx="24.7" cy="2.85" r="2.1" fill="#4a48d8"/><text x="18.9" y="26.3" text-anchor="middle" font-family="'Liberation Sans',sans-serif" font-size="9" font-weight="400" letter-spacing="1.45" fill="#4a48d8" stroke="#4a48d8" stroke-width="0.3">midoo</text></svg>
<div class="t" style="left:43.4px;top:36.6px;transform:translate(0,-50%);font-size:28px;font-weight:700;color:#4a48d8;letter-spacing:3.2px;opacity:0.098;">米多</div>
<div class="t" style="left:116px;top:35.6px;transform:translate(-50%,-50%);font-size:12.5px;color:#9c88cc;opacity:0.12;">x</div>
<div class="t" style="left:134.4px;top:37.9px;transform:translate(0,-50%);font-size:22px;font-weight:700;color:#9844c4;letter-spacing:0.9px;opacity:0.075;">数字化星球</div>
<div class="a" style="left:0;top:0;opacity:0.1;"><svg class="a" style="left:252.46px;top:15.719999999999999px" width="47.68000000000001" height="35.760000000000005" viewBox="-24 -18 48 36"><defs><linearGradient id="pg9" x1="0" y1="0.2" x2="1" y2="0.6"><stop offset="0" stop-color="#4a44d4"/><stop offset="0.5" stop-color="#5638c4"/><stop offset="1" stop-color="#a83cc0"/></linearGradient></defs><ellipse cx="0" cy="0" rx="22" ry="4.2" transform="rotate(-29)" fill="none" stroke="#c4a8f0" stroke-width="1.1"/><circle cx="0" cy="0" r="15" fill="url(#pg9)"/><circle cx="-3.5" cy="-2.5" r="4.2" fill="#3a34b4" opacity=".45"/><circle cx="3" cy="6" r="3.2" fill="#8038c0" opacity=".45"/><circle cx="5" cy="-7" r="2.2" fill="#7a40c8" opacity=".5"/><path d="M-14.5,8 Q2,2.5 14.6,-8.1" fill="none" stroke="#c860d8" stroke-width="1.1" opacity=".7"/></svg></div>
</div>
<div class="a" style="left:27.5px;top:406.5px;width:300px;height:67px;transform-origin:0 0;transform:scale(1.943);">
<svg class="a" style="left:5.3px;top:21.4px;opacity:0.098" width="35" height="28" viewBox="0 0 35 28"><path d="M0,5.7 C3,1.6 7.5,0 11.1,0.1 C15.5,0.3 19,2.6 20.6,5.7 C23,5.8 25.5,6.2 27.2,7.1 C30.6,9 32.7,12.4 33.3,16.3 C32.2,14.2 31.4,13.2 30.5,12.5 C29,11.2 27.8,10.5 26.6,10.3 C25.4,10.1 24.2,10.1 23.1,10.4 C22,10.8 21,11.6 20.3,12.6 C19.2,14.1 18,15.9 17,17.8 C18.2,14.2 18.7,12.4 18.4,10.5 C17.8,6.5 15.4,3.2 12,2 C8,1.2 3.6,2.8 0,5.7 Z" fill="#4a48d8"/><circle cx="24.7" cy="2.85" r="2.1" fill="#4a48d8"/><text x="18.9" y="26.3" text-anchor="middle" font-family="'Liberation Sans',sans-serif" font-size="9" font-weight="400" letter-spacing="1.45" fill="#4a48d8" stroke="#4a48d8" stroke-width="0.3">midoo</text></svg>
<div class="t" style="left:43.4px;top:36.6px;transform:translate(0,-50%);font-size:28px;font-weight:700;color:#4a48d8;letter-spacing:3.2px;opacity:0.098;">米多</div>
<div class="t" style="left:116px;top:35.6px;transform:translate(-50%,-50%);font-size:12.5px;color:#9c88cc;opacity:0.12;">x</div>
<div class="t" style="left:134.4px;top:37.9px;transform:translate(0,-50%);font-size:22px;font-weight:700;color:#9844c4;letter-spacing:0.9px;opacity:0.075;">数字化星球</div>
<div class="a" style="left:0;top:0;opacity:0.1;"><svg class="a" style="left:252.46px;top:15.719999999999999px" width="47.68000000000001" height="35.760000000000005" viewBox="-24 -18 48 36"><defs><linearGradient id="pg10" x1="0" y1="0.2" x2="1" y2="0.6"><stop offset="0" stop-color="#4a44d4"/><stop offset="0.5" stop-color="#5638c4"/><stop offset="1" stop-color="#a83cc0"/></linearGradient></defs><ellipse cx="0" cy="0" rx="22" ry="4.2" transform="rotate(-29)" fill="none" stroke="#c4a8f0" stroke-width="1.1"/><circle cx="0" cy="0" r="15" fill="url(#pg10)"/><circle cx="-3.5" cy="-2.5" r="4.2" fill="#3a34b4" opacity=".45"/><circle cx="3" cy="6" r="3.2" fill="#8038c0" opacity=".45"/><circle cx="5" cy="-7" r="2.2" fill="#7a40c8" opacity=".5"/><path d="M-14.5,8 Q2,2.5 14.6,-8.1" fill="none" stroke="#c860d8" stroke-width="1.1" opacity=".7"/></svg></div>
</div>
<div class="a" style="left:656.2px;top:406.5px;width:300px;height:67px;transform-origin:0 0;transform:scale(1.943);">
<svg class="a" style="left:5.3px;top:21.4px;opacity:0.098" width="35" height="28" viewBox="0 0 35 28"><path d="M0,5.7 C3,1.6 7.5,0 11.1,0.1 C15.5,0.3 19,2.6 20.6,5.7 C23,5.8 25.5,6.2 27.2,7.1 C30.6,9 32.7,12.4 33.3,16.3 C32.2,14.2 31.4,13.2 30.5,12.5 C29,11.2 27.8,10.5 26.6,10.3 C25.4,10.1 24.2,10.1 23.1,10.4 C22,10.8 21,11.6 20.3,12.6 C19.2,14.1 18,15.9 17,17.8 C18.2,14.2 18.7,12.4 18.4,10.5 C17.8,6.5 15.4,3.2 12,2 C8,1.2 3.6,2.8 0,5.7 Z" fill="#4a48d8"/><circle cx="24.7" cy="2.85" r="2.1" fill="#4a48d8"/><text x="18.9" y="26.3" text-anchor="middle" font-family="'Liberation Sans',sans-serif" font-size="9" font-weight="400" letter-spacing="1.45" fill="#4a48d8" stroke="#4a48d8" stroke-width="0.3">midoo</text></svg>
<div class="t" style="left:43.4px;top:36.6px;transform:translate(0,-50%);font-size:28px;font-weight:700;color:#4a48d8;letter-spacing:3.2px;opacity:0.098;">米多</div>
<div class="t" style="left:116px;top:35.6px;transform:translate(-50%,-50%);font-size:12.5px;color:#9c88cc;opacity:0.12;">x</div>
<div class="t" style="left:134.4px;top:37.9px;transform:translate(0,-50%);font-size:22px;font-weight:700;color:#9844c4;letter-spacing:0.9px;opacity:0.075;">数字化星球</div>
<div class="a" style="left:0;top:0;opacity:0.1;"><svg class="a" style="left:252.46px;top:15.719999999999999px" width="47.68000000000001" height="35.760000000000005" viewBox="-24 -18 48 36"><defs><linearGradient id="pg11" x1="0" y1="0.2" x2="1" y2="0.6"><stop offset="0" stop-color="#4a44d4"/><stop offset="0.5" stop-color="#5638c4"/><stop offset="1" stop-color="#a83cc0"/></linearGradient></defs><ellipse cx="0" cy="0" rx="22" ry="4.2" transform="rotate(-29)" fill="none" stroke="#c4a8f0" stroke-width="1.1"/><circle cx="0" cy="0" r="15" fill="url(#pg11)"/><circle cx="-3.5" cy="-2.5" r="4.2" fill="#3a34b4" opacity=".45"/><circle cx="3" cy="6" r="3.2" fill="#8038c0" opacity=".45"/><circle cx="5" cy="-7" r="2.2" fill="#7a40c8" opacity=".5"/><path d="M-14.5,8 Q2,2.5 14.6,-8.1" fill="none" stroke="#c860d8" stroke-width="1.1" opacity=".7"/></svg></div>
</div>
<div class="a" style="left:27.5px;top:499.9px;width:300px;height:67px;transform-origin:0 0;transform:scale(1.943);">
<svg class="a" style="left:5.3px;top:21.4px;opacity:0.098" width="35" height="28" viewBox="0 0 35 28"><path d="M0,5.7 C3,1.6 7.5,0 11.1,0.1 C15.5,0.3 19,2.6 20.6,5.7 C23,5.8 25.5,6.2 27.2,7.1 C30.6,9 32.7,12.4 33.3,16.3 C32.2,14.2 31.4,13.2 30.5,12.5 C29,11.2 27.8,10.5 26.6,10.3 C25.4,10.1 24.2,10.1 23.1,10.4 C22,10.8 21,11.6 20.3,12.6 C19.2,14.1 18,15.9 17,17.8 C18.2,14.2 18.7,12.4 18.4,10.5 C17.8,6.5 15.4,3.2 12,2 C8,1.2 3.6,2.8 0,5.7 Z" fill="#4a48d8"/><circle cx="24.7" cy="2.85" r="2.1" fill="#4a48d8"/><text x="18.9" y="26.3" text-anchor="middle" font-family="'Liberation Sans',sans-serif" font-size="9" font-weight="400" letter-spacing="1.45" fill="#4a48d8" stroke="#4a48d8" stroke-width="0.3">midoo</text></svg>
<div class="t" style="left:43.4px;top:36.6px;transform:translate(0,-50%);font-size:28px;font-weight:700;color:#4a48d8;letter-spacing:3.2px;opacity:0.098;">米多</div>
<div class="t" style="left:116px;top:35.6px;transform:translate(-50%,-50%);font-size:12.5px;color:#9c88cc;opacity:0.12;">x</div>
<div class="t" style="left:134.4px;top:37.9px;transform:translate(0,-50%);font-size:22px;font-weight:700;color:#9844c4;letter-spacing:0.9px;opacity:0.075;">数字化星球</div>
<div class="a" style="left:0;top:0;opacity:0.1;"><svg class="a" style="left:252.46px;top:15.719999999999999px" width="47.68000000000001" height="35.760000000000005" viewBox="-24 -18 48 36"><defs><linearGradient id="pg12" x1="0" y1="0.2" x2="1" y2="0.6"><stop offset="0" stop-color="#4a44d4"/><stop offset="0.5" stop-color="#5638c4"/><stop offset="1" stop-color="#a83cc0"/></linearGradient></defs><ellipse cx="0" cy="0" rx="22" ry="4.2" transform="rotate(-29)" fill="none" stroke="#c4a8f0" stroke-width="1.1"/><circle cx="0" cy="0" r="15" fill="url(#pg12)"/><circle cx="-3.5" cy="-2.5" r="4.2" fill="#3a34b4" opacity=".45"/><circle cx="3" cy="6" r="3.2" fill="#8038c0" opacity=".45"/><circle cx="5" cy="-7" r="2.2" fill="#7a40c8" opacity=".5"/><path d="M-14.5,8 Q2,2.5 14.6,-8.1" fill="none" stroke="#c860d8" stroke-width="1.1" opacity=".7"/></svg></div>
</div>
<div class="a" style="left:656.2px;top:499.9px;width:300px;height:67px;transform-origin:0 0;transform:scale(1.943);">
<svg class="a" style="left:5.3px;top:21.4px;opacity:0.098" width="35" height="28" viewBox="0 0 35 28"><path d="M0,5.7 C3,1.6 7.5,0 11.1,0.1 C15.5,0.3 19,2.6 20.6,5.7 C23,5.8 25.5,6.2 27.2,7.1 C30.6,9 32.7,12.4 33.3,16.3 C32.2,14.2 31.4,13.2 30.5,12.5 C29,11.2 27.8,10.5 26.6,10.3 C25.4,10.1 24.2,10.1 23.1,10.4 C22,10.8 21,11.6 20.3,12.6 C19.2,14.1 18,15.9 17,17.8 C18.2,14.2 18.7,12.4 18.4,10.5 C17.8,6.5 15.4,3.2 12,2 C8,1.2 3.6,2.8 0,5.7 Z" fill="#4a48d8"/><circle cx="24.7" cy="2.85" r="2.1" fill="#4a48d8"/><text x="18.9" y="26.3" text-anchor="middle" font-family="'Liberation Sans',sans-serif" font-size="9" font-weight="400" letter-spacing="1.45" fill="#4a48d8" stroke="#4a48d8" stroke-width="0.3">midoo</text></svg>
<div class="t" style="left:43.4px;top:36.6px;transform:translate(0,-50%);font-size:28px;font-weight:700;color:#4a48d8;letter-spacing:3.2px;opacity:0.098;">米多</div>
<div class="t" style="left:116px;top:35.6px;transform:translate(-50%,-50%);font-size:12.5px;color:#9c88cc;opacity:0.12;">x</div>
<div class="t" style="left:134.4px;top:37.9px;transform:translate(0,-50%);font-size:22px;font-weight:700;color:#9844c4;letter-spacing:0.9px;opacity:0.075;">数字化星球</div>
<div class="a" style="left:0;top:0;opacity:0.1;"><svg class="a" style="left:252.46px;top:15.719999999999999px" width="47.68000000000001" height="35.760000000000005" viewBox="-24 -18 48 36"><defs><linearGradient id="pg13" x1="0" y1="0.2" x2="1" y2="0.6"><stop offset="0" stop-color="#4a44d4"/><stop offset="0.5" stop-color="#5638c4"/><stop offset="1" stop-color="#a83cc0"/></linearGradient></defs><ellipse cx="0" cy="0" rx="22" ry="4.2" transform="rotate(-29)" fill="none" stroke="#c4a8f0" stroke-width="1.1"/><circle cx="0" cy="0" r="15" fill="url(#pg13)"/><circle cx="-3.5" cy="-2.5" r="4.2" fill="#3a34b4" opacity=".45"/><circle cx="3" cy="6" r="3.2" fill="#8038c0" opacity=".45"/><circle cx="5" cy="-7" r="2.2" fill="#7a40c8" opacity=".5"/><path d="M-14.5,8 Q2,2.5 14.6,-8.1" fill="none" stroke="#c860d8" stroke-width="1.1" opacity=".7"/></svg></div>
</div>
<div class="a" style="left:27.5px;top:593.3px;width:300px;height:67px;transform-origin:0 0;transform:scale(1.943);">
<svg class="a" style="left:5.3px;top:21.4px;opacity:0.098" width="35" height="28" viewBox="0 0 35 28"><path d="M0,5.7 C3,1.6 7.5,0 11.1,0.1 C15.5,0.3 19,2.6 20.6,5.7 C23,5.8 25.5,6.2 27.2,7.1 C30.6,9 32.7,12.4 33.3,16.3 C32.2,14.2 31.4,13.2 30.5,12.5 C29,11.2 27.8,10.5 26.6,10.3 C25.4,10.1 24.2,10.1 23.1,10.4 C22,10.8 21,11.6 20.3,12.6 C19.2,14.1 18,15.9 17,17.8 C18.2,14.2 18.7,12.4 18.4,10.5 C17.8,6.5 15.4,3.2 12,2 C8,1.2 3.6,2.8 0,5.7 Z" fill="#4a48d8"/><circle cx="24.7" cy="2.85" r="2.1" fill="#4a48d8"/><text x="18.9" y="26.3" text-anchor="middle" font-family="'Liberation Sans',sans-serif" font-size="9" font-weight="400" letter-spacing="1.45" fill="#4a48d8" stroke="#4a48d8" stroke-width="0.3">midoo</text></svg>
<div class="t" style="left:43.4px;top:36.6px;transform:translate(0,-50%);font-size:28px;font-weight:700;color:#4a48d8;letter-spacing:3.2px;opacity:0.098;">米多</div>
<div class="t" style="left:116px;top:35.6px;transform:translate(-50%,-50%);font-size:12.5px;color:#9c88cc;opacity:0.12;">x</div>
<div class="t" style="left:134.4px;top:37.9px;transform:translate(0,-50%);font-size:22px;font-weight:700;color:#9844c4;letter-spacing:0.9px;opacity:0.075;">数字化星球</div>
<div class="a" style="left:0;top:0;opacity:0.1;"><svg class="a" style="left:252.46px;top:15.719999999999999px" width="47.68000000000001" height="35.760000000000005" viewBox="-24 -18 48 36"><defs><linearGradient id="pg14" x1="0" y1="0.2" x2="1" y2="0.6"><stop offset="0" stop-color="#4a44d4"/><stop offset="0.5" stop-color="#5638c4"/><stop offset="1" stop-color="#a83cc0"/></linearGradient></defs><ellipse cx="0" cy="0" rx="22" ry="4.2" transform="rotate(-29)" fill="none" stroke="#c4a8f0" stroke-width="1.1"/><circle cx="0" cy="0" r="15" fill="url(#pg14)"/><circle cx="-3.5" cy="-2.5" r="4.2" fill="#3a34b4" opacity=".45"/><circle cx="3" cy="6" r="3.2" fill="#8038c0" opacity=".45"/><circle cx="5" cy="-7" r="2.2" fill="#7a40c8" opacity=".5"/><path d="M-14.5,8 Q2,2.5 14.6,-8.1" fill="none" stroke="#c860d8" stroke-width="1.1" opacity=".7"/></svg></div>
</div>
<div class="a" style="left:656.2px;top:593.3px;width:300px;height:67px;transform-origin:0 0;transform:scale(1.943);">
<svg class="a" style="left:5.3px;top:21.4px;opacity:0.098" width="35" height="28" viewBox="0 0 35 28"><path d="M0,5.7 C3,1.6 7.5,0 11.1,0.1 C15.5,0.3 19,2.6 20.6,5.7 C23,5.8 25.5,6.2 27.2,7.1 C30.6,9 32.7,12.4 33.3,16.3 C32.2,14.2 31.4,13.2 30.5,12.5 C29,11.2 27.8,10.5 26.6,10.3 C25.4,10.1 24.2,10.1 23.1,10.4 C22,10.8 21,11.6 20.3,12.6 C19.2,14.1 18,15.9 17,17.8 C18.2,14.2 18.7,12.4 18.4,10.5 C17.8,6.5 15.4,3.2 12,2 C8,1.2 3.6,2.8 0,5.7 Z" fill="#4a48d8"/><circle cx="24.7" cy="2.85" r="2.1" fill="#4a48d8"/><text x="18.9" y="26.3" text-anchor="middle" font-family="'Liberation Sans',sans-serif" font-size="9" font-weight="400" letter-spacing="1.45" fill="#4a48d8" stroke="#4a48d8" stroke-width="0.3">midoo</text></svg>
<div class="t" style="left:43.4px;top:36.6px;transform:translate(0,-50%);font-size:28px;font-weight:700;color:#4a48d8;letter-spacing:3.2px;opacity:0.098;">米多</div>
<div class="t" style="left:116px;top:35.6px;transform:translate(-50%,-50%);font-size:12.5px;color:#9c88cc;opacity:0.12;">x</div>
<div class="t" style="left:134.4px;top:37.9px;transform:translate(0,-50%);font-size:22px;font-weight:700;color:#9844c4;letter-spacing:0.9px;opacity:0.075;">数字化星球</div>
<div class="a" style="left:0;top:0;opacity:0.1;"><svg class="a" style="left:252.46px;top:15.719999999999999px" width="47.68000000000001" height="35.760000000000005" viewBox="-24 -18 48 36"><defs><linearGradient id="pg15" x1="0" y1="0.2" x2="1" y2="0.6"><stop offset="0" stop-color="#4a44d4"/><stop offset="0.5" stop-color="#5638c4"/><stop offset="1" stop-color="#a83cc0"/></linearGradient></defs><ellipse cx="0" cy="0" rx="22" ry="4.2" transform="rotate(-29)" fill="none" stroke="#c4a8f0" stroke-width="1.1"/><circle cx="0" cy="0" r="15" fill="url(#pg15)"/><circle cx="-3.5" cy="-2.5" r="4.2" fill="#3a34b4" opacity=".45"/><circle cx="3" cy="6" r="3.2" fill="#8038c0" opacity=".45"/><circle cx="5" cy="-7" r="2.2" fill="#7a40c8" opacity=".5"/><path d="M-14.5,8 Q2,2.5 14.6,-8.1" fill="none" stroke="#c860d8" stroke-width="1.1" opacity=".7"/></svg></div>
</div>
<div class="a" style="left:0;top:600px;width:112px;height:113px;background:#fff"></div>
<svg class="a" style="left:2.9px;top:604.8px" width="104.8" height="104.8" viewBox="0 0 37 37"><path d="M0,0h7v1h-7zM8.1,0.1h0.82v0.82h-0.82zM9.1,0.1h0.82v0.82h-0.82zM10.1,0.1h0.82v0.82h-0.82zM11.1,0.1h0.82v0.82h-0.82zM12.1,0.1h0.82v0.82h-0.82zM14.1,0.1h0.82v0.82h-0.82zM15.1,0.1h0.82v0.82h-0.82zM19.1,0.1h0.82v0.82h-0.82zM21.1,0.1h0.82v0.82h-0.82zM23.1,0.1h0.82v0.82h-0.82zM24.1,0.1h0.82v0.82h-0.82zM25.1,0.1h0.82v0.82h-0.82zM26.1,0.1h0.82v0.82h-0.82zM28.1,0.1h0.82v0.82h-0.82zM30,0h7v1h-7zM0,1h1v1h-1zM6,1h1v1h-1zM12.1,1.1h0.82v0.82h-0.82zM14.1,1.1h0.82v0.82h-0.82zM15.1,1.1h0.82v0.82h-0.82zM17.1,1.1h0.82v0.82h-0.82zM19.1,1.1h0.82v0.82h-0.82zM24.1,1.1h0.82v0.82h-0.82zM28.1,1.1h0.82v0.82h-0.82zM30,1h1v1h-1zM36,1h1v1h-1zM0,2h1v1h-1zM2,2h3v1h-3zM6,2h1v1h-1zM8.1,2.1h0.82v0.82h-0.82zM10.1,2.1h0.82v0.82h-0.82zM11.1,2.1h0.82v0.82h-0.82zM12.1,2.1h0.82v0.82h-0.82zM14.1,2.1h0.82v0.82h-0.82zM15.1,2.1h0.82v0.82h-0.82zM20.1,2.1h0.82v0.82h-0.82zM21.1,2.1h0.82v0.82h-0.82zM22.1,2.1h0.82v0.82h-0.82zM25.1,2.1h0.82v0.82h-0.82zM26.1,2.1h0.82v0.82h-0.82zM27.1,2.1h0.82v0.82h-0.82zM28.1,2.1h0.82v0.82h-0.82zM30,2h1v1h-1zM32,2h3v1h-3zM36,2h1v1h-1zM0,3h1v1h-1zM2,3h3v1h-3zM6,3h1v1h-1zM9.1,3.1h0.82v0.82h-0.82zM10.1,3.1h0.82v0.82h-0.82zM11.1,3.1h0.82v0.82h-0.82zM13.1,3.1h0.82v0.82h-0.82zM14.1,3.1h0.82v0.82h-0.82zM15.1,3.1h0.82v0.82h-0.82zM16.1,3.1h0.82v0.82h-0.82zM17.1,3.1h0.82v0.82h-0.82zM18.1,3.1h0.82v0.82h-0.82zM19.1,3.1h0.82v0.82h-0.82zM20.1,3.1h0.82v0.82h-0.82zM21.1,3.1h0.82v0.82h-0.82zM22.1,3.1h0.82v0.82h-0.82zM23.1,3.1h0.82v0.82h-0.82zM26.1,3.1h0.82v0.82h-0.82zM27.1,3.1h0.82v0.82h-0.82zM28.1,3.1h0.82v0.82h-0.82zM30,3h1v1h-1zM32,3h3v1h-3zM36,3h1v1h-1zM0,4h1v1h-1zM2,4h3v1h-3zM6,4h1v1h-1zM9.1,4.1h0.82v0.82h-0.82zM14.1,4.1h0.82v0.82h-0.82zM15.1,4.1h0.82v0.82h-0.82zM16.1,4.1h0.82v0.82h-0.82zM20.1,4.1h0.82v0.82h-0.82zM21.1,4.1h0.82v0.82h-0.82zM28.1,4.1h0.82v0.82h-0.82zM30,4h1v1h-1zM32,4h3v1h-3zM36,4h1v1h-1zM0,5h1v1h-1zM6,5h1v1h-1zM8.1,5.1h0.82v0.82h-0.82zM15.1,5.1h0.82v0.82h-0.82zM21.1,5.1h0.82v0.82h-0.82zM23.1,5.1h0.82v0.82h-0.82zM26.1,5.1h0.82v0.82h-0.82zM27.1,5.1h0.82v0.82h-0.82zM30,5h1v1h-1zM36,5h1v1h-1zM0,6h7v1h-7zM10.1,6.1h0.82v0.82h-0.82zM13.1,6.1h0.82v0.82h-0.82zM14.1,6.1h0.82v0.82h-0.82zM15.1,6.1h0.82v0.82h-0.82zM16.1,6.1h0.82v0.82h-0.82zM18.1,6.1h0.82v0.82h-0.82zM19.1,6.1h0.82v0.82h-0.82zM20.1,6.1h0.82v0.82h-0.82zM22.1,6.1h0.82v0.82h-0.82zM23.1,6.1h0.82v0.82h-0.82zM26.1,6.1h0.82v0.82h-0.82zM30,6h7v1h-7zM9.1,7.1h0.82v0.82h-0.82zM10.1,7.1h0.82v0.82h-0.82zM16.1,7.1h0.82v0.82h-0.82zM21.1,7.1h0.82v0.82h-0.82zM28.1,7.1h0.82v0.82h-0.82zM0.1,8.1h0.82v0.82h-0.82zM4.1,8.1h0.82v0.82h-0.82zM7.1,8.1h0.82v0.82h-0.82zM10.1,8.1h0.82v0.82h-0.82zM12.1,8.1h0.82v0.82h-0.82zM16.1,8.1h0.82v0.82h-0.82zM17.1,8.1h0.82v0.82h-0.82zM19.1,8.1h0.82v0.82h-0.82zM20.1,8.1h0.82v0.82h-0.82zM21.1,8.1h0.82v0.82h-0.82zM23.1,8.1h0.82v0.82h-0.82zM25.1,8.1h0.82v0.82h-0.82zM26.1,8.1h0.82v0.82h-0.82zM27.1,8.1h0.82v0.82h-0.82zM30.1,8.1h0.82v0.82h-0.82zM34.1,8.1h0.82v0.82h-0.82zM35.1,8.1h0.82v0.82h-0.82zM36.1,8.1h0.82v0.82h-0.82zM1.1,9.1h0.82v0.82h-0.82zM2.1,9.1h0.82v0.82h-0.82zM3.1,9.1h0.82v0.82h-0.82zM6.1,9.1h0.82v0.82h-0.82zM7.1,9.1h0.82v0.82h-0.82zM11.1,9.1h0.82v0.82h-0.82zM12.1,9.1h0.82v0.82h-0.82zM14.1,9.1h0.82v0.82h-0.82zM15.1,9.1h0.82v0.82h-0.82zM19.1,9.1h0.82v0.82h-0.82zM21.1,9.1h0.82v0.82h-0.82zM23.1,9.1h0.82v0.82h-0.82zM24.1,9.1h0.82v0.82h-0.82zM27.1,9.1h0.82v0.82h-0.82zM28.1,9.1h0.82v0.82h-0.82zM30.1,9.1h0.82v0.82h-0.82zM31.1,9.1h0.82v0.82h-0.82zM32.1,9.1h0.82v0.82h-0.82zM33.1,9.1h0.82v0.82h-0.82zM34.1,9.1h0.82v0.82h-0.82zM35.1,9.1h0.82v0.82h-0.82zM36.1,9.1h0.82v0.82h-0.82zM1.1,10.1h0.82v0.82h-0.82zM3.1,10.1h0.82v0.82h-0.82zM4.1,10.1h0.82v0.82h-0.82zM5.1,10.1h0.82v0.82h-0.82zM6.1,10.1h0.82v0.82h-0.82zM7.1,10.1h0.82v0.82h-0.82zM10.1,10.1h0.82v0.82h-0.82zM13.1,10.1h0.82v0.82h-0.82zM15.1,10.1h0.82v0.82h-0.82zM18.1,10.1h0.82v0.82h-0.82zM22.1,10.1h0.82v0.82h-0.82zM26.1,10.1h0.82v0.82h-0.82zM27.1,10.1h0.82v0.82h-0.82zM28.1,10.1h0.82v0.82h-0.82zM29.1,10.1h0.82v0.82h-0.82zM30.1,10.1h0.82v0.82h-0.82zM32.1,10.1h0.82v0.82h-0.82zM33.1,10.1h0.82v0.82h-0.82zM34.1,10.1h0.82v0.82h-0.82zM1.1,11.1h0.82v0.82h-0.82zM2.1,11.1h0.82v0.82h-0.82zM3.1,11.1h0.82v0.82h-0.82zM4.1,11.1h0.82v0.82h-0.82zM5.1,11.1h0.82v0.82h-0.82zM6.1,11.1h0.82v0.82h-0.82zM7.1,11.1h0.82v0.82h-0.82zM11.1,11.1h0.82v0.82h-0.82zM13.1,11.1h0.82v0.82h-0.82zM14.1,11.1h0.82v0.82h-0.82zM15.1,11.1h0.82v0.82h-0.82zM16.1,11.1h0.82v0.82h-0.82zM19.1,11.1h0.82v0.82h-0.82zM21.1,11.1h0.82v0.82h-0.82zM22.1,11.1h0.82v0.82h-0.82zM23.1,11.1h0.82v0.82h-0.82zM24.1,11.1h0.82v0.82h-0.82zM25.1,11.1h0.82v0.82h-0.82zM26.1,11.1h0.82v0.82h-0.82zM27.1,11.1h0.82v0.82h-0.82zM28.1,11.1h0.82v0.82h-0.82zM35.1,11.1h0.82v0.82h-0.82zM36.1,11.1h0.82v0.82h-0.82zM1.1,12.1h0.82v0.82h-0.82zM4.1,12.1h0.82v0.82h-0.82zM10.1,12.1h0.82v0.82h-0.82zM20.1,12.1h0.82v0.82h-0.82zM21.1,12.1h0.82v0.82h-0.82zM22.1,12.1h0.82v0.82h-0.82zM23.1,12.1h0.82v0.82h-0.82zM24.1,12.1h0.82v0.82h-0.82zM31.1,12.1h0.82v0.82h-0.82zM0.1,13.1h0.82v0.82h-0.82zM2.1,13.1h0.82v0.82h-0.82zM3.1,13.1h0.82v0.82h-0.82zM4.1,13.1h0.82v0.82h-0.82zM6.1,13.1h0.82v0.82h-0.82zM10.1,13.1h0.82v0.82h-0.82zM16.1,13.1h0.82v0.82h-0.82zM17.1,13.1h0.82v0.82h-0.82zM18.1,13.1h0.82v0.82h-0.82zM20.1,13.1h0.82v0.82h-0.82zM22.1,13.1h0.82v0.82h-0.82zM23.1,13.1h0.82v0.82h-0.82zM24.1,13.1h0.82v0.82h-0.82zM28.1,13.1h0.82v0.82h-0.82zM30.1,13.1h0.82v0.82h-0.82zM31.1,13.1h0.82v0.82h-0.82zM32.1,13.1h0.82v0.82h-0.82zM34.1,13.1h0.82v0.82h-0.82zM0.1,14.1h0.82v0.82h-0.82zM1.1,14.1h0.82v0.82h-0.82zM4.1,14.1h0.82v0.82h-0.82zM5.1,14.1h0.82v0.82h-0.82zM6.1,14.1h0.82v0.82h-0.82zM8.1,14.1h0.82v0.82h-0.82zM10.1,14.1h0.82v0.82h-0.82zM13.1,14.1h0.82v0.82h-0.82zM24.1,14.1h0.82v0.82h-0.82zM25.1,14.1h0.82v0.82h-0.82zM26.1,14.1h0.82v0.82h-0.82zM27.1,14.1h0.82v0.82h-0.82zM28.1,14.1h0.82v0.82h-0.82zM30.1,14.1h0.82v0.82h-0.82zM33.1,14.1h0.82v0.82h-0.82zM0.1,15.1h0.82v0.82h-0.82zM1.1,15.1h0.82v0.82h-0.82zM2.1,15.1h0.82v0.82h-0.82zM5.1,15.1h0.82v0.82h-0.82zM6.1,15.1h0.82v0.82h-0.82zM7.1,15.1h0.82v0.82h-0.82zM8.1,15.1h0.82v0.82h-0.82zM9.1,15.1h0.82v0.82h-0.82zM11.1,15.1h0.82v0.82h-0.82zM13.1,15.1h0.82v0.82h-0.82zM26.1,15.1h0.82v0.82h-0.82zM28.1,15.1h0.82v0.82h-0.82zM31.1,15.1h0.82v0.82h-0.82zM32.1,15.1h0.82v0.82h-0.82zM34.1,15.1h0.82v0.82h-0.82zM36.1,15.1h0.82v0.82h-0.82zM0.1,16.1h0.82v0.82h-0.82zM3.1,16.1h0.82v0.82h-0.82zM5.1,16.1h0.82v0.82h-0.82zM7.1,16.1h0.82v0.82h-0.82zM8.1,16.1h0.82v0.82h-0.82zM9.1,16.1h0.82v0.82h-0.82zM10.1,16.1h0.82v0.82h-0.82zM13.1,16.1h0.82v0.82h-0.82zM23.1,16.1h0.82v0.82h-0.82zM27.1,16.1h0.82v0.82h-0.82zM28.1,16.1h0.82v0.82h-0.82zM30.1,16.1h0.82v0.82h-0.82zM31.1,16.1h0.82v0.82h-0.82zM32.1,16.1h0.82v0.82h-0.82zM33.1,16.1h0.82v0.82h-0.82zM35.1,16.1h0.82v0.82h-0.82zM2.1,17.1h0.82v0.82h-0.82zM3.1,17.1h0.82v0.82h-0.82zM4.1,17.1h0.82v0.82h-0.82zM5.1,17.1h0.82v0.82h-0.82zM6.1,17.1h0.82v0.82h-0.82zM10.1,17.1h0.82v0.82h-0.82zM11.1,17.1h0.82v0.82h-0.82zM23.1,17.1h0.82v0.82h-0.82zM24.1,17.1h0.82v0.82h-0.82zM31.1,17.1h0.82v0.82h-0.82zM33.1,17.1h0.82v0.82h-0.82zM35.1,17.1h0.82v0.82h-0.82zM1.1,18.1h0.82v0.82h-0.82zM2.1,18.1h0.82v0.82h-0.82zM3.1,18.1h0.82v0.82h-0.82zM6.1,18.1h0.82v0.82h-0.82zM7.1,18.1h0.82v0.82h-0.82zM10.1,18.1h0.82v0.82h-0.82zM11.1,18.1h0.82v0.82h-0.82zM13.1,18.1h0.82v0.82h-0.82zM24.1,18.1h0.82v0.82h-0.82zM25.1,18.1h0.82v0.82h-0.82zM28.1,18.1h0.82v0.82h-0.82zM29.1,18.1h0.82v0.82h-0.82zM32.1,18.1h0.82v0.82h-0.82zM33.1,18.1h0.82v0.82h-0.82zM34.1,18.1h0.82v0.82h-0.82zM35.1,18.1h0.82v0.82h-0.82zM0.1,19.1h0.82v0.82h-0.82zM4.1,19.1h0.82v0.82h-0.82zM6.1,19.1h0.82v0.82h-0.82zM8.1,19.1h0.82v0.82h-0.82zM9.1,19.1h0.82v0.82h-0.82zM11.1,19.1h0.82v0.82h-0.82zM23.1,19.1h0.82v0.82h-0.82zM24.1,19.1h0.82v0.82h-0.82zM25.1,19.1h0.82v0.82h-0.82zM26.1,19.1h0.82v0.82h-0.82zM32.1,19.1h0.82v0.82h-0.82zM33.1,19.1h0.82v0.82h-0.82zM36.1,19.1h0.82v0.82h-0.82zM1.1,20.1h0.82v0.82h-0.82zM2.1,20.1h0.82v0.82h-0.82zM3.1,20.1h0.82v0.82h-0.82zM4.1,20.1h0.82v0.82h-0.82zM5.1,20.1h0.82v0.82h-0.82zM6.1,20.1h0.82v0.82h-0.82zM7.1,20.1h0.82v0.82h-0.82zM9.1,20.1h0.82v0.82h-0.82zM11.1,20.1h0.82v0.82h-0.82zM12.1,20.1h0.82v0.82h-0.82zM23.1,20.1h0.82v0.82h-0.82zM24.1,20.1h0.82v0.82h-0.82zM27.1,20.1h0.82v0.82h-0.82zM28.1,20.1h0.82v0.82h-0.82zM29.1,20.1h0.82v0.82h-0.82zM31.1,20.1h0.82v0.82h-0.82zM34.1,20.1h0.82v0.82h-0.82zM35.1,20.1h0.82v0.82h-0.82zM1.1,21.1h0.82v0.82h-0.82zM3.1,21.1h0.82v0.82h-0.82zM4.1,21.1h0.82v0.82h-0.82zM5.1,21.1h0.82v0.82h-0.82zM10.1,21.1h0.82v0.82h-0.82zM11.1,21.1h0.82v0.82h-0.82zM26.1,21.1h0.82v0.82h-0.82zM27.1,21.1h0.82v0.82h-0.82zM28.1,21.1h0.82v0.82h-0.82zM30.1,21.1h0.82v0.82h-0.82zM31.1,21.1h0.82v0.82h-0.82zM33.1,21.1h0.82v0.82h-0.82zM34.1,21.1h0.82v0.82h-0.82zM35.1,21.1h0.82v0.82h-0.82zM0.1,22.1h0.82v0.82h-0.82zM4.1,22.1h0.82v0.82h-0.82zM5.1,22.1h0.82v0.82h-0.82zM6.1,22.1h0.82v0.82h-0.82zM9.1,22.1h0.82v0.82h-0.82zM10.1,22.1h0.82v0.82h-0.82zM11.1,22.1h0.82v0.82h-0.82zM23.1,22.1h0.82v0.82h-0.82zM24.1,22.1h0.82v0.82h-0.82zM25.1,22.1h0.82v0.82h-0.82zM26.1,22.1h0.82v0.82h-0.82zM29.1,22.1h0.82v0.82h-0.82zM30.1,22.1h0.82v0.82h-0.82zM33.1,22.1h0.82v0.82h-0.82zM0.1,23.1h0.82v0.82h-0.82zM5.1,23.1h0.82v0.82h-0.82zM6.1,23.1h0.82v0.82h-0.82zM7.1,23.1h0.82v0.82h-0.82zM8.1,23.1h0.82v0.82h-0.82zM12.1,23.1h0.82v0.82h-0.82zM14.1,23.1h0.82v0.82h-0.82zM15.1,23.1h0.82v0.82h-0.82zM18.1,23.1h0.82v0.82h-0.82zM21.1,23.1h0.82v0.82h-0.82zM22.1,23.1h0.82v0.82h-0.82zM23.1,23.1h0.82v0.82h-0.82zM24.1,23.1h0.82v0.82h-0.82zM25.1,23.1h0.82v0.82h-0.82zM28.1,23.1h0.82v0.82h-0.82zM29.1,23.1h0.82v0.82h-0.82zM30.1,23.1h0.82v0.82h-0.82zM32.1,23.1h0.82v0.82h-0.82zM33.1,23.1h0.82v0.82h-0.82zM34.1,23.1h0.82v0.82h-0.82zM0.1,24.1h0.82v0.82h-0.82zM1.1,24.1h0.82v0.82h-0.82zM2.1,24.1h0.82v0.82h-0.82zM5.1,24.1h0.82v0.82h-0.82zM6.1,24.1h0.82v0.82h-0.82zM8.1,24.1h0.82v0.82h-0.82zM9.1,24.1h0.82v0.82h-0.82zM10.1,24.1h0.82v0.82h-0.82zM12.1,24.1h0.82v0.82h-0.82zM14.1,24.1h0.82v0.82h-0.82zM15.1,24.1h0.82v0.82h-0.82zM18.1,24.1h0.82v0.82h-0.82zM19.1,24.1h0.82v0.82h-0.82zM21.1,24.1h0.82v0.82h-0.82zM22.1,24.1h0.82v0.82h-0.82zM24.1,24.1h0.82v0.82h-0.82zM26.1,24.1h0.82v0.82h-0.82zM28.1,24.1h0.82v0.82h-0.82zM29.1,24.1h0.82v0.82h-0.82zM30.1,24.1h0.82v0.82h-0.82zM34.1,24.1h0.82v0.82h-0.82zM36.1,24.1h0.82v0.82h-0.82zM1.1,25.1h0.82v0.82h-0.82zM2.1,25.1h0.82v0.82h-0.82zM5.1,25.1h0.82v0.82h-0.82zM9.1,25.1h0.82v0.82h-0.82zM10.1,25.1h0.82v0.82h-0.82zM14.1,25.1h0.82v0.82h-0.82zM16.1,25.1h0.82v0.82h-0.82zM20.1,25.1h0.82v0.82h-0.82zM22.1,25.1h0.82v0.82h-0.82zM23.1,25.1h0.82v0.82h-0.82zM26.1,25.1h0.82v0.82h-0.82zM27.1,25.1h0.82v0.82h-0.82zM28.1,25.1h0.82v0.82h-0.82zM30.1,25.1h0.82v0.82h-0.82zM31.1,25.1h0.82v0.82h-0.82zM32.1,25.1h0.82v0.82h-0.82zM35.1,25.1h0.82v0.82h-0.82zM1.1,26.1h0.82v0.82h-0.82zM3.1,26.1h0.82v0.82h-0.82zM7.1,26.1h0.82v0.82h-0.82zM8.1,26.1h0.82v0.82h-0.82zM10.1,26.1h0.82v0.82h-0.82zM12.1,26.1h0.82v0.82h-0.82zM13.1,26.1h0.82v0.82h-0.82zM14.1,26.1h0.82v0.82h-0.82zM17.1,26.1h0.82v0.82h-0.82zM20.1,26.1h0.82v0.82h-0.82zM21.1,26.1h0.82v0.82h-0.82zM23.1,26.1h0.82v0.82h-0.82zM24.1,26.1h0.82v0.82h-0.82zM25.1,26.1h0.82v0.82h-0.82zM26.1,26.1h0.82v0.82h-0.82zM27.1,26.1h0.82v0.82h-0.82zM29.1,26.1h0.82v0.82h-0.82zM31.1,26.1h0.82v0.82h-0.82zM35.1,26.1h0.82v0.82h-0.82zM0.1,27.1h0.82v0.82h-0.82zM2.1,27.1h0.82v0.82h-0.82zM7.1,27.1h0.82v0.82h-0.82zM12.1,27.1h0.82v0.82h-0.82zM15.1,27.1h0.82v0.82h-0.82zM16.1,27.1h0.82v0.82h-0.82zM18.1,27.1h0.82v0.82h-0.82zM20.1,27.1h0.82v0.82h-0.82zM22.1,27.1h0.82v0.82h-0.82zM25.1,27.1h0.82v0.82h-0.82zM26.1,27.1h0.82v0.82h-0.82zM28.1,27.1h0.82v0.82h-0.82zM29.1,27.1h0.82v0.82h-0.82zM30.1,27.1h0.82v0.82h-0.82zM31.1,27.1h0.82v0.82h-0.82zM35.1,27.1h0.82v0.82h-0.82zM0.1,28.1h0.82v0.82h-0.82zM3.1,28.1h0.82v0.82h-0.82zM8.1,28.1h0.82v0.82h-0.82zM11.1,28.1h0.82v0.82h-0.82zM13.1,28.1h0.82v0.82h-0.82zM16.1,28.1h0.82v0.82h-0.82zM18.1,28.1h0.82v0.82h-0.82zM19.1,28.1h0.82v0.82h-0.82zM21.1,28.1h0.82v0.82h-0.82zM23.1,28.1h0.82v0.82h-0.82zM28,28h5v1h-5zM33.1,28.1h0.82v0.82h-0.82zM36.1,28.1h0.82v0.82h-0.82zM10.1,29.1h0.82v0.82h-0.82zM13.1,29.1h0.82v0.82h-0.82zM15.1,29.1h0.82v0.82h-0.82zM16.1,29.1h0.82v0.82h-0.82zM17.1,29.1h0.82v0.82h-0.82zM21.1,29.1h0.82v0.82h-0.82zM22.1,29.1h0.82v0.82h-0.82zM23.1,29.1h0.82v0.82h-0.82zM26.1,29.1h0.82v0.82h-0.82zM28,29h1v1h-1zM32,29h1v1h-1zM33.1,29.1h0.82v0.82h-0.82zM35.1,29.1h0.82v0.82h-0.82zM36.1,29.1h0.82v0.82h-0.82zM0,30h7v1h-7zM11.1,30.1h0.82v0.82h-0.82zM12.1,30.1h0.82v0.82h-0.82zM13.1,30.1h0.82v0.82h-0.82zM14.1,30.1h0.82v0.82h-0.82zM18.1,30.1h0.82v0.82h-0.82zM21.1,30.1h0.82v0.82h-0.82zM23.1,30.1h0.82v0.82h-0.82zM24.1,30.1h0.82v0.82h-0.82zM25.1,30.1h0.82v0.82h-0.82zM26.1,30.1h0.82v0.82h-0.82zM27.1,30.1h0.82v0.82h-0.82zM28,30h1v1h-1zM30,30h1v1h-1zM32,30h1v1h-1zM33.1,30.1h0.82v0.82h-0.82zM35.1,30.1h0.82v0.82h-0.82zM0,31h1v1h-1zM6,31h1v1h-1zM8.1,31.1h0.82v0.82h-0.82zM12.1,31.1h0.82v0.82h-0.82zM14.1,31.1h0.82v0.82h-0.82zM15.1,31.1h0.82v0.82h-0.82zM21.1,31.1h0.82v0.82h-0.82zM25.1,31.1h0.82v0.82h-0.82zM28,31h1v1h-1zM32,31h1v1h-1zM33.1,31.1h0.82v0.82h-0.82zM34.1,31.1h0.82v0.82h-0.82zM35.1,31.1h0.82v0.82h-0.82zM0,32h1v1h-1zM2,32h3v1h-3zM6,32h1v1h-1zM8.1,32.1h0.82v0.82h-0.82zM10.1,32.1h0.82v0.82h-0.82zM14.1,32.1h0.82v0.82h-0.82zM18.1,32.1h0.82v0.82h-0.82zM19.1,32.1h0.82v0.82h-0.82zM20.1,32.1h0.82v0.82h-0.82zM21.1,32.1h0.82v0.82h-0.82zM27.1,32.1h0.82v0.82h-0.82zM28,32h5v1h-5zM33.1,32.1h0.82v0.82h-0.82zM34.1,32.1h0.82v0.82h-0.82zM35.1,32.1h0.82v0.82h-0.82zM36.1,32.1h0.82v0.82h-0.82zM0,33h1v1h-1zM2,33h3v1h-3zM6,33h1v1h-1zM8.1,33.1h0.82v0.82h-0.82zM9.1,33.1h0.82v0.82h-0.82zM11.1,33.1h0.82v0.82h-0.82zM14.1,33.1h0.82v0.82h-0.82zM16.1,33.1h0.82v0.82h-0.82zM18.1,33.1h0.82v0.82h-0.82zM19.1,33.1h0.82v0.82h-0.82zM20.1,33.1h0.82v0.82h-0.82zM23.1,33.1h0.82v0.82h-0.82zM27.1,33.1h0.82v0.82h-0.82zM29.1,33.1h0.82v0.82h-0.82zM31.1,33.1h0.82v0.82h-0.82zM33.1,33.1h0.82v0.82h-0.82zM34.1,33.1h0.82v0.82h-0.82zM0,34h1v1h-1zM2,34h3v1h-3zM6,34h1v1h-1zM8.1,34.1h0.82v0.82h-0.82zM9.1,34.1h0.82v0.82h-0.82zM11.1,34.1h0.82v0.82h-0.82zM13.1,34.1h0.82v0.82h-0.82zM14.1,34.1h0.82v0.82h-0.82zM15.1,34.1h0.82v0.82h-0.82zM18.1,34.1h0.82v0.82h-0.82zM20.1,34.1h0.82v0.82h-0.82zM21.1,34.1h0.82v0.82h-0.82zM26.1,34.1h0.82v0.82h-0.82zM27.1,34.1h0.82v0.82h-0.82zM28.1,34.1h0.82v0.82h-0.82zM32.1,34.1h0.82v0.82h-0.82zM33.1,34.1h0.82v0.82h-0.82zM36.1,34.1h0.82v0.82h-0.82zM0,35h1v1h-1zM6,35h1v1h-1zM8.1,35.1h0.82v0.82h-0.82zM9.1,35.1h0.82v0.82h-0.82zM10.1,35.1h0.82v0.82h-0.82zM12.1,35.1h0.82v0.82h-0.82zM13.1,35.1h0.82v0.82h-0.82zM14.1,35.1h0.82v0.82h-0.82zM17.1,35.1h0.82v0.82h-0.82zM19.1,35.1h0.82v0.82h-0.82zM20.1,35.1h0.82v0.82h-0.82zM24.1,35.1h0.82v0.82h-0.82zM25.1,35.1h0.82v0.82h-0.82zM27.1,35.1h0.82v0.82h-0.82zM28.1,35.1h0.82v0.82h-0.82zM29.1,35.1h0.82v0.82h-0.82zM30.1,35.1h0.82v0.82h-0.82zM31.1,35.1h0.82v0.82h-0.82zM36.1,35.1h0.82v0.82h-0.82zM0,36h7v1h-7zM8.1,36.1h0.82v0.82h-0.82zM9.1,36.1h0.82v0.82h-0.82zM17.1,36.1h0.82v0.82h-0.82zM18.1,36.1h0.82v0.82h-0.82zM20.1,36.1h0.82v0.82h-0.82zM21.1,36.1h0.82v0.82h-0.82zM25.1,36.1h0.82v0.82h-0.82zM26.1,36.1h0.82v0.82h-0.82zM27.1,36.1h0.82v0.82h-0.82zM29.1,36.1h0.82v0.82h-0.82zM32.1,36.1h0.82v0.82h-0.82zM35.1,36.1h0.82v0.82h-0.82z" fill="#3a3a3a"/></svg>
<div class="a" style="left:42.5px;top:644.5px;width:26px;height:26px;border-radius:3px;background:#fff"></div>
<svg class="a" style="left:45.2px;top:648.6px;opacity:1" width="21.0" height="16.8" viewBox="0 0 35 28"><path d="M0,5.7 C3,1.6 7.5,0 11.1,0.1 C15.5,0.3 19,2.6 20.6,5.7 C23,5.8 25.5,6.2 27.2,7.1 C30.6,9 32.7,12.4 33.3,16.3 C32.2,14.2 31.4,13.2 30.5,12.5 C29,11.2 27.8,10.5 26.6,10.3 C25.4,10.1 24.2,10.1 23.1,10.4 C22,10.8 21,11.6 20.3,12.6 C19.2,14.1 18,15.9 17,17.8 C18.2,14.2 18.7,12.4 18.4,10.5 C17.8,6.5 15.4,3.2 12,2 C8,1.2 3.6,2.8 0,5.7 Z" fill="#1c5cac"/><circle cx="24.7" cy="2.85" r="2.1" fill="#1c5cac"/><text x="18.9" y="26.3" text-anchor="middle" font-family="'Liberation Sans',sans-serif" font-size="9" font-weight="400" letter-spacing="1.45" fill="#1c5cac" stroke="#1c5cac" stroke-width="0.3">midoo</text></svg>
<div class="t" style="left:118.6px;top:700px;transform:translate(0,-50%);font-size:16px;color:#264a8c;font-weight:400;letter-spacing:-0.15px;">添加微信，获取营销数字化解决方案</div>
</body></html>
